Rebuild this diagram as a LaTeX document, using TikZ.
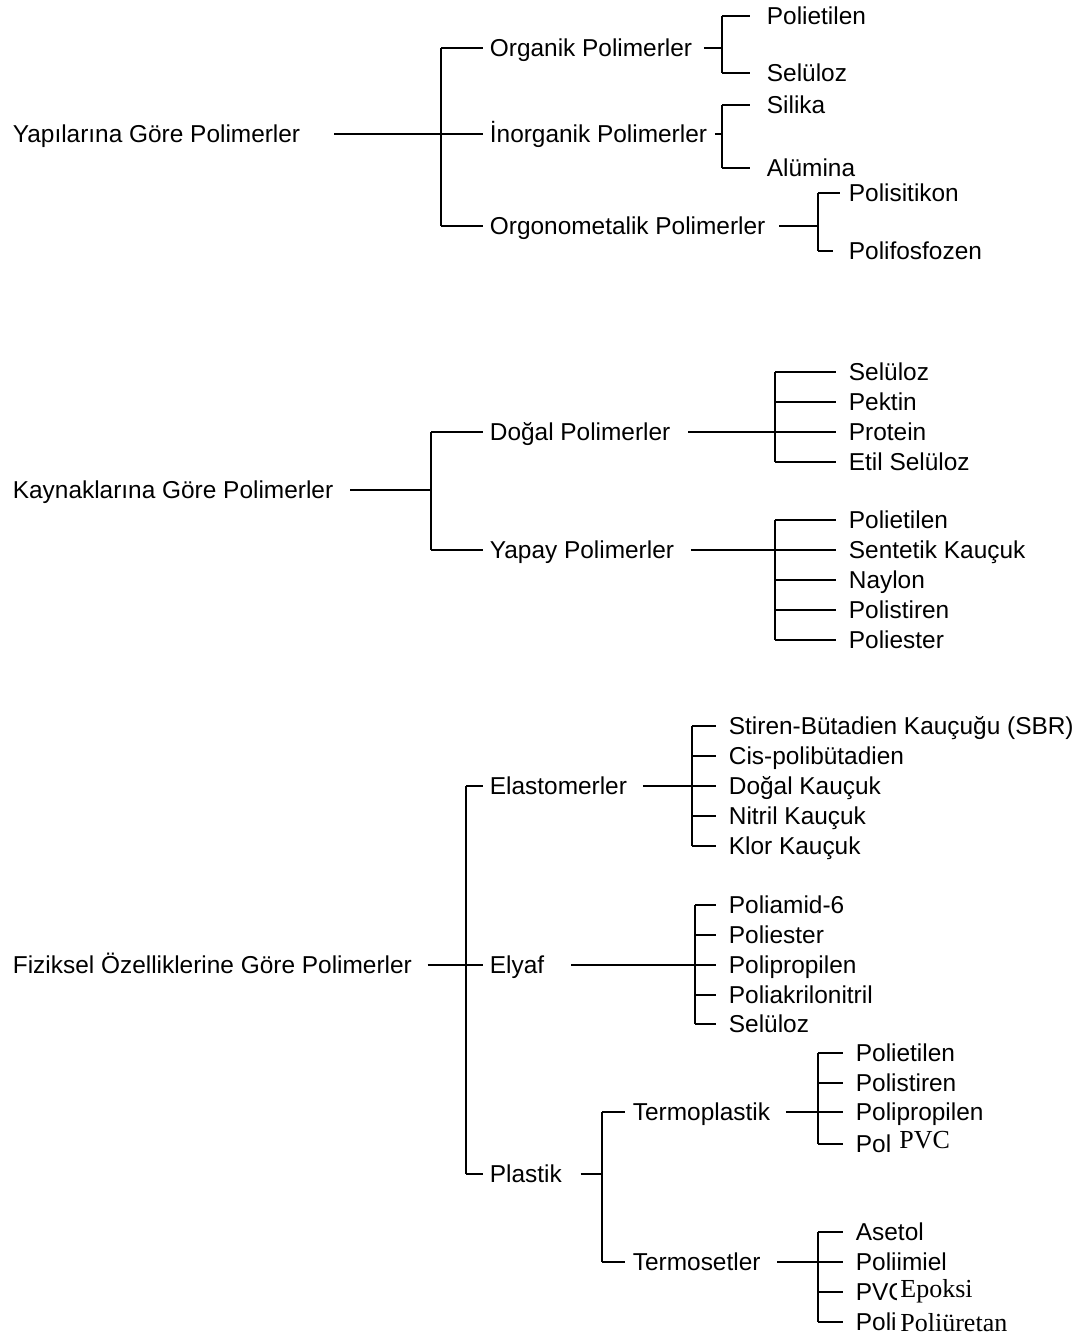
\documentclass[tikz,border=0pt]{standalone}
\usepackage{fontspec}
\setmainfont{Liberation Sans}
\newfontfamily\timesfont{Liberation Serif}

\begin{document}
\begin{tikzpicture}[x=0.02cm, y=-0.02cm, line width=1pt,
        every node/.style={anchor=west, inner sep=0pt, text height=9.9pt, text depth=0pt,
            font=\fontsize{13.9}{16}\selectfont},
        patch/.style={fill=white, inner xsep=2pt, inner ysep=2pt,
            font=\timesfont\fontsize{14.8}{16}\selectfont},
        stem/.style={shorten <=#1},
        twig/.style={shorten >=#1}]
        \useasboundingbox (0,0) rectangle (1078,1338);

        % Nodes: Yapilarina Gore
        \node (Y) at (12,134) {Yapılarına Göre Polimerler};
        \node (Y1) at (489,48) {Organik Polimerler};
        \node (Y2) at (489,134) {İnorganik Polimerler};
        \node (Y3) at (489,226) {Orgonometalik Polimerler};
        \node (Y11) at (766,16) {Polietilen};
        \node (Y12) at (766,73) {Selüloz};
        \node (Y21) at (766,105) {Silika};
        \node (Y22) at (766,168) {Alümina};
        \node (Y31) at (848,193) {Polisitikon};
        \node (Y32) at (848,251) {Polifosfozen};
        \coordinate (a) at (441,0);
        \coordinate (b) at (722,0);
        \coordinate (c) at (818,0);

        % Nodes: Kaynaklarina Gore
        \node (K) at (12,490) {Kaynaklarına Göre Polimerler};
        \node (K1) at (489,432) {Doğal Polimerler};
        \node (K2) at (489,550) {Yapay Polimerler};
        \node (K11) at (848,372) {Selüloz};
        \node (K12) at (848,402) {Pektin};
        \node (K13) at (848,432) {Protein};
        \node (K14) at (848,462) {Etil Selüloz};
        \node (K21) at (848,520) {Polietilen};
        \node (K22) at (848,550) {Sentetik Kauçuk};
        \node (K23) at (848,580) {Naylon};
        \node (K24) at (848,610) {Polistiren};
        \node (K25) at (848,640) {Poliester};
        \coordinate (d) at (431,0);
        \coordinate (e) at (775,0);

        % Nodes: Fiziksel Ozelliklerine Gore
        \node (F) at (12,965) {Fiziksel Özelliklerine Göre Polimerler};
        \node (F1) at (489,786) {Elastomerler};
        \node (F2) at (489,965) {Elyaf};
        \node (F3) at (489,1174) {Plastik};
        \node (F11) at (728,726) {Stiren-Bütadien Kauçuğu (SBR)};
        \node (F12) at (728,756) {Cis-polibütadien};
        \node (F13) at (728,786) {Doğal Kauçuk};
        \node (F14) at (728,816) {Nitril Kauçuk};
        \node (F15) at (728,846) {Klor Kauçuk};
        \node (F21) at (728,905) {Poliamid-6};
        \node (F22) at (728,935) {Poliester};
        \node (F23) at (728,965) {Polipropilen};
        \node (F24) at (728,995) {Poliakrilonitril};
        \node (F25) at (728,1024) {Selüloz};
        \node (F31) at (632,1112) {Termoplastik};
        \node (F32) at (632,1262) {Termosetler};
        \node (F311) at (855,1053) {Polietilen};
        \node (F312) at (855,1083) {Polistiren};
        \node (F313) at (855,1112) {Polipropilen};
        \node (F314) at (855,1144) {Pol};
        \node (F321) at (855,1232) {Asetol};
        \node (F322) at (855,1262) {Poliimiel};
        \node (F323) at (855,1292) {PVC};
        \node (F324) at (855,1322) {Poliüretan};
        \node[patch] (P1) at (895,1140) {PVC};
        \node[patch] (P2) at (896,1289) {Epoksi};
        \node[patch] (P3) at (896,1323) {Poliüretan};
        \coordinate (g) at (466,0);
        \coordinate (h) at (692,0);
        \coordinate (i) at (695,0);
        \coordinate (j) at (602,0);
        \coordinate (k) at (818,0);

        % Edges: Yapilarina Gore
        \draw[stem=0.66cm] (Y.east) -- (a |- Y.east);
        \draw (a |- Y1.west) -- (a |- Y3.west);
        \foreach \n in {Y1,Y2,Y3} \draw[twig=0.12cm] (a |- \n.west) -- (\n.west);
        \draw[stem=0.22cm] (Y1.east) -- (b |- Y1.east);
        \draw (b |- Y11.west) -- (b |- Y12.west);
        \foreach \n in {Y11,Y12} \draw[twig=0.32cm] (b |- \n.west) -- (\n.west);
        \draw[stem=0.14cm] (Y2.east) -- (b |- Y2.east);
        \draw (b |- Y21.west) -- (b |- Y22.west);
        \foreach \n in {Y21,Y22} \draw[twig=0.32cm] (b |- \n.west) -- (\n.west);
        \draw[stem=0.26cm] (Y3.east) -- (c |- Y3.east);
        \draw (c |- Y31.west) -- (c |- Y32.west);
        \draw[twig=0.16cm] (c |- Y31.west) -- (Y31.west);
        \draw[twig=0.3cm] (c |- Y32.west) -- (Y32.west);

        % Edges: Kaynaklarina Gore
        \draw[stem=0.32cm] (K.east) -- (d |- K.east);
        \draw (d |- K1.west) -- (d |- K2.west);
        \foreach \n in {K1,K2} \draw[twig=0.12cm] (d |- \n.west) -- (\n.west);
        \draw[stem=0.34cm] (K1.east) -- (e |- K1.east);
        \draw (e |- K11.west) -- (e |- K14.west);
        \foreach \n in {K11,K12,K13,K14} \draw[twig=0.24cm] (e |- \n.west) -- (\n.west);
        \draw[stem=0.32cm] (K2.east) -- (e |- K2.east);
        \draw (e |- K21.west) -- (e |- K25.west);
        \foreach \n in {K21,K22,K23,K24,K25} \draw[twig=0.24cm] (e |- \n.west) -- (\n.west);

        % Edges: Fiziksel Ozelliklerine Gore
        \draw[stem=0.3cm] (F.east) -- (g |- F.east);
        \draw (g |- F1.west) -- (g |- F3.west);
        \foreach \n in {F1,F2,F3} \draw[twig=0.12cm] (g |- \n.west) -- (\n.west);
        \draw[stem=0.3cm] (F1.east) -- (h |- F1.east);
        \draw (h |- F11.west) -- (h |- F15.west);
        \foreach \n in {F11,F12,F13,F14,F15} \draw[twig=0.24cm] (h |- \n.west) -- (\n.west);
        \draw[stem=0.52cm] (F2.east) -- (i |- F2.east);
        \draw (i |- F21.west) -- (i |- F25.west);
        \foreach \n in {F21,F22,F23,F24,F25} \draw[twig=0.24cm] (i |- \n.west) -- (\n.west);
        \draw[stem=0.36cm] (F3.east) -- (j |- F3.east);
        \draw (j |- F31.west) -- (j |- F32.west);
        \foreach \n in {F31,F32} \draw[twig=0.14cm] (j |- \n.west) -- (\n.west);
        \draw[stem=0.3cm] (F31.east) -- (k |- F31.east);
        \draw (k |- F311.west) -- (k |- F314.west);
        \foreach \n in {F311,F312,F313,F314} \draw[twig=0.24cm] (k |- \n.west) -- (\n.west);
        \draw[stem=0.32cm] (F32.east) -- (k |- F32.east);
        \draw (k |- F321.west) -- (k |- F324.west);
        \foreach \n in {F321,F322,F323,F324} \draw[twig=0.24cm] (k |- \n.west) -- (\n.west);
    \end{tikzpicture}
\end{document}
